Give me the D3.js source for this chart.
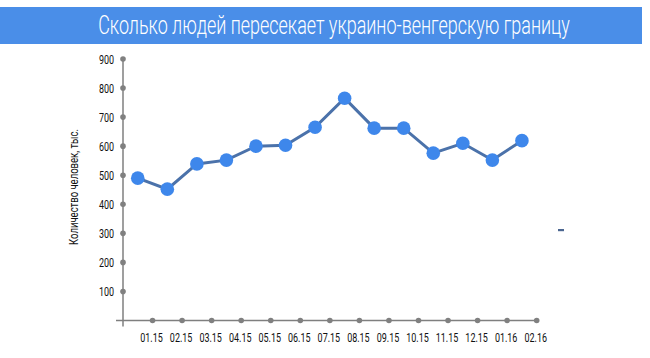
<!DOCTYPE html>
<html><head><meta charset="utf-8">
<script src="https://cdn.jsdelivr.net/npm/d3@7"></script>
<style>
html,body{margin:0;padding:0;background:#fff;}
svg{display:block;}
text{font-family:Roboto,"Open Sans",sans-serif;}
</style></head>
<body><svg id="c" width="650" height="358"></svg>
<script>
const title = "Сколько людей пересекает украино-венгерскую границу";
const yTitle = "Количество человек, тыс.";
const xTickLabels = ["01.15","02.15","03.15","04.15","05.15","06.15","07.15","08.15","09.15","10.15","11.15","12.15","01.16","02.16"];
const yTicks = [100,200,300,400,500,600,700,800,900];
const values = [490,452,539,552,600,603,665,765,662,662,576,610,552,619];

const svg = d3.select("#c");
const K = 0.68;

svg.append("rect").attr("x",0).attr("y",7).attr("width",642).attr("height",37).attr("fill","#4A8EE8");
const t = svg.append("text").attr("text-anchor","middle")
  .attr("fill","#fff").attr("font-size",25).attr("font-weight",300).text(title);
const tw = t.node().getComputedTextLength();
t.attr("transform",`translate(334,34) scale(${472/tw},1)`);

const x = d3.scaleLinear().domain([0, values.length]).range([123, 536.7]);
const y = d3.scaleLinear().domain([0, 900]).range([320.5, 59]);
const axisColor = "#7f7f7f";

svg.append("line").attr("x1",x(0)).attr("x2",x(0)).attr("y1",y(900)).attr("y2",y(0)+6)
  .attr("stroke",axisColor).attr("stroke-width",1.5);
svg.append("line").attr("x1",x(0)-7).attr("x2",x(values.length)).attr("y1",y(0)).attr("y2",y(0))
  .attr("stroke",axisColor).attr("stroke-width",1.5);

const yg = svg.append("g");
yg.selectAll("circle").data(yTicks).join("circle")
  .attr("cx",x(0)).attr("cy",d=>y(d)).attr("r",2.8).attr("fill","#808080");
yg.selectAll("text").data(yTicks).join("text")
  .attr("transform",d=>`translate(${x(0)-9},${y(d)+4.7}) scale(${K},1)`).attr("text-anchor","end")
  .attr("font-size",13.2).attr("fill","#111").text(d=>d);

const xg = svg.append("g");
xg.selectAll("circle").data(xTickLabels).join("circle")
  .attr("cx",(d,i)=>x(i+1)).attr("cy",y(0)).attr("r",2.8).attr("fill","#808080");
xg.selectAll("text").data(xTickLabels).join("text")
  .attr("transform",(d,i)=>`translate(${x(i+1)-1},341.5) scale(${K},1)`).attr("text-anchor","middle")
  .attr("font-size",13.2).attr("fill","#111").text(d=>d);

const yt = svg.append("text").attr("text-anchor","middle")
  .attr("font-size",13.5).attr("fill","#111").text(yTitle);
const yw = yt.node().getComputedTextLength();
yt.attr("transform",`translate(77.5,187) rotate(-90) scale(${116/yw},1)`);

const line = d3.line().x((d,i)=>x(i+0.5)).y(d=>y(d));
svg.append("path").datum(values).attr("d",line).attr("fill","none")
  .attr("stroke","#4B72AA").attr("stroke-width",3);
svg.selectAll("circle.pt").data(values).join("circle").attr("class","pt")
  .attr("cx",(d,i)=>x(i+0.5)).attr("cy",d=>y(d)).attr("r",6.8).attr("fill","#3E87EB");

svg.append("rect").attr("x",558).attr("y",229).attr("width",6).attr("height",2.2).attr("fill","#4B6690");
</script></body></html>
